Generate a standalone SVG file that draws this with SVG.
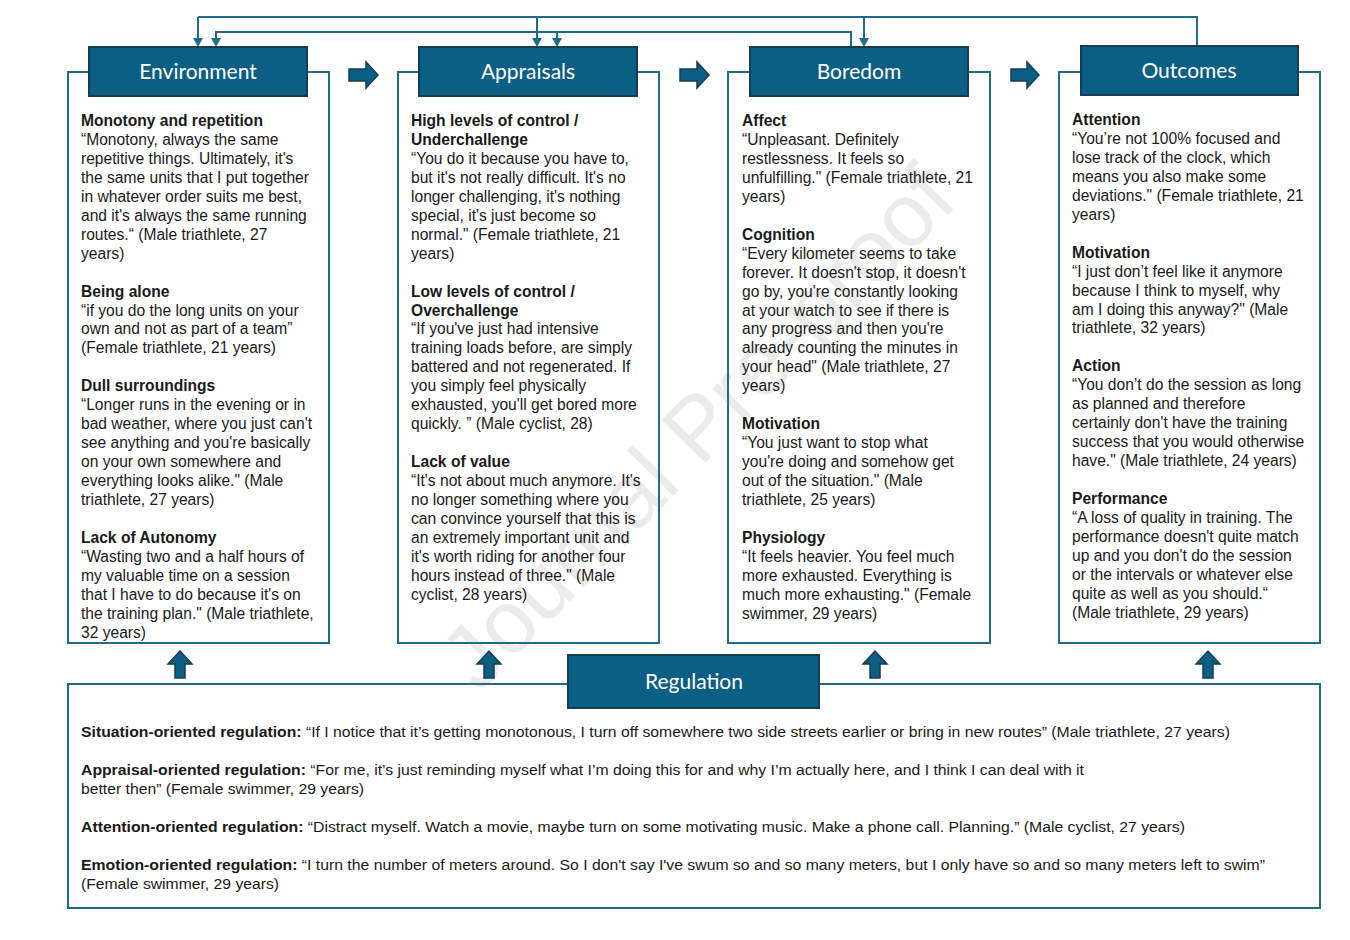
<svg xmlns="http://www.w3.org/2000/svg" width="1350" height="940" viewBox="0 0 1350 940">
<style>
.frame{fill:none;stroke:#1f6b8c;stroke-width:2}
.hdr{fill:#0b5e84;stroke:#173d52;stroke-width:2}
.htxt{font-family:Lato,"Open Sans",sans-serif;font-size:21px;fill:#ffffff;text-anchor:middle}
.t{font-family:"Liberation Sans",Arial,sans-serif;font-size:15.6px;fill:#1a1a1a}
.b{font-weight:bold}
.r{font-family:"Liberation Sans",Arial,sans-serif;font-size:15.5px;fill:#1a1a1a}
.con{fill:none;stroke:#1f6b8c;stroke-width:2}
.blk{fill:#0b5e84;stroke:#173d52;stroke-width:1.5}
.wm{font-family:"Liberation Sans",Arial,sans-serif;font-size:89px;fill:#ebebeb;text-anchor:middle}
</style>
<rect width="1350" height="940" fill="#ffffff"/>
<text class="wm" x="697" y="458" transform="rotate(-45.6 697 427)">Journal Pre-proof</text>

<g id="connectors">
<path class="con" d="M198,17 H1197 V46"/>
<path class="con" d="M198,17 V38"/>
<path class="con" d="M537,17 V38"/>
<path class="con" d="M864,17 V38"/>
<path class="con" d="M851,47 V32 H216 V38"/>
<path class="con" d="M557,32 V38"/>
<path d="M193,38 L203,38 L198,47 Z" fill="#1f6b8c"/>
<path d="M532,38 L542,38 L537,47 Z" fill="#1f6b8c"/>
<path d="M859,38 L869,38 L864,47 Z" fill="#1f6b8c"/>
<path d="M211,38 L221,38 L216,47 Z" fill="#1f6b8c"/>
<path d="M552,38 L562,38 L557,47 Z" fill="#1f6b8c"/>
<polygon class="blk" points="349,69 366,69 366,62 378,75 366,88 366,81 349,81"/>
<polygon class="blk" points="680,69 697,69 697,62 709,75 697,88 697,81 680,81"/>
<polygon class="blk" points="1011,69 1027,69 1027,62 1039,75 1027,88 1027,81 1011,81"/>
<polygon class="blk" points="175,678 175,664 168,664 180,651 192,664 185,664 185,678"/>
<polygon class="blk" points="484,678 484,664 477,664 489,651 501,664 494,664 494,678"/>
<polygon class="blk" points="870,678 870,664 863,664 875,651 887,664 880,664 880,678"/>
<polygon class="blk" points="1203,678 1203,664 1196,664 1208,651 1220,664 1213,664 1213,678"/>
</g>

<g id="environment">
<rect class="frame" x="68" y="72" width="261" height="571"/>
<rect class="hdr" x="89" y="47" width="218" height="49"/>
<text class="htxt" x="198" y="79">Environment</text>
<text class="t" x="81" y="126">
<tspan x="81" class="b">Monotony and repetition</tspan>
<tspan x="81" dy="18.95">“Monotony, always the same</tspan>
<tspan x="81" dy="18.95">repetitive things. Ultimately, it's</tspan>
<tspan x="81" dy="18.95">the same units that I put together</tspan>
<tspan x="81" dy="18.95">in whatever order suits me best,</tspan>
<tspan x="81" dy="18.95">and it's always the same running</tspan>
<tspan x="81" dy="18.95">routes.“ (Male triathlete, 27</tspan>
<tspan x="81" dy="18.95">years)</tspan>
<tspan x="81" dy="37.9" class="b">Being alone</tspan>
<tspan x="81" dy="18.95">“if you do the long units on your</tspan>
<tspan x="81" dy="18.95">own and not as part of a team”</tspan>
<tspan x="81" dy="18.95">(Female triathlete, 21 years)</tspan>
<tspan x="81" dy="37.9" class="b">Dull surroundings</tspan>
<tspan x="81" dy="18.95">“Longer runs in the evening or in</tspan>
<tspan x="81" dy="18.95">bad weather, where you just can't</tspan>
<tspan x="81" dy="18.95">see anything and you're basically</tspan>
<tspan x="81" dy="18.95">on your own somewhere and</tspan>
<tspan x="81" dy="18.95">everything looks alike." (Male</tspan>
<tspan x="81" dy="18.95">triathlete, 27 years)</tspan>
<tspan x="81" dy="37.9" class="b">Lack of Autonomy</tspan>
<tspan x="81" dy="18.95">“Wasting two and a half hours of</tspan>
<tspan x="81" dy="18.95">my valuable time on a session</tspan>
<tspan x="81" dy="18.95">that I have to do because it's on</tspan>
<tspan x="81" dy="18.95">the training plan." (Male triathlete,</tspan>
<tspan x="81" dy="18.95">32 years)</tspan>
</text>
</g>

<g id="appraisals">
<rect class="frame" x="398" y="72" width="261" height="571"/>
<rect class="hdr" x="419" y="47" width="218" height="49"/>
<text class="htxt" x="528" y="79">Appraisals</text>
<text class="t" x="411" y="126">
<tspan x="411" class="b">High levels of control /</tspan>
<tspan x="411" dy="18.95" class="b">Underchallenge</tspan>
<tspan x="411" dy="18.95">“You do it because you have to,</tspan>
<tspan x="411" dy="18.95">but it's not really difficult. It's no</tspan>
<tspan x="411" dy="18.95">longer challenging, it's nothing</tspan>
<tspan x="411" dy="18.95">special, it's just become so</tspan>
<tspan x="411" dy="18.95">normal." (Female triathlete, 21</tspan>
<tspan x="411" dy="18.95">years)</tspan>
<tspan x="411" dy="37.9" class="b">Low levels of control /</tspan>
<tspan x="411" dy="18.95" class="b">Overchallenge</tspan>
<tspan x="411" dy="18.95">“If you've just had intensive</tspan>
<tspan x="411" dy="18.95">training loads before, are simply</tspan>
<tspan x="411" dy="18.95">battered and not regenerated. If</tspan>
<tspan x="411" dy="18.95">you simply feel physically</tspan>
<tspan x="411" dy="18.95">exhausted, you'll get bored more</tspan>
<tspan x="411" dy="18.95">quickly. ” (Male cyclist, 28)</tspan>
<tspan x="411" dy="37.9" class="b">Lack of value</tspan>
<tspan x="411" dy="18.95">“It's not about much anymore. It's</tspan>
<tspan x="411" dy="18.95">no longer something where you</tspan>
<tspan x="411" dy="18.95">can convince yourself that this is</tspan>
<tspan x="411" dy="18.95">an extremely important unit and</tspan>
<tspan x="411" dy="18.95">it's worth riding for another four</tspan>
<tspan x="411" dy="18.95">hours instead of three." (Male</tspan>
<tspan x="411" dy="18.95">cyclist, 28 years)</tspan>
</text>
</g>

<g id="boredom">
<rect class="frame" x="728" y="72" width="262" height="571"/>
<rect class="hdr" x="750" y="47" width="218" height="49"/>
<text class="htxt" x="859" y="79">Boredom</text>
<text class="t" x="742" y="126">
<tspan x="742" class="b">Affect</tspan>
<tspan x="742" dy="18.95">“Unpleasant. Definitely</tspan>
<tspan x="742" dy="18.95">restlessness. It feels so</tspan>
<tspan x="742" dy="18.95">unfulfilling." (Female triathlete, 21</tspan>
<tspan x="742" dy="18.95">years)</tspan>
<tspan x="742" dy="37.9" class="b">Cognition</tspan>
<tspan x="742" dy="18.95">“Every kilometer seems to take</tspan>
<tspan x="742" dy="18.95">forever. It doesn't stop, it doesn't</tspan>
<tspan x="742" dy="18.95">go by, you're constantly looking</tspan>
<tspan x="742" dy="18.95">at your watch to see if there is</tspan>
<tspan x="742" dy="18.95">any progress and then you're</tspan>
<tspan x="742" dy="18.95">already counting the minutes in</tspan>
<tspan x="742" dy="18.95">your head" (Male triathlete, 27</tspan>
<tspan x="742" dy="18.95">years)</tspan>
<tspan x="742" dy="37.9" class="b">Motivation</tspan>
<tspan x="742" dy="18.95">“You just want to stop what</tspan>
<tspan x="742" dy="18.95">you're doing and somehow get</tspan>
<tspan x="742" dy="18.95">out of the situation." (Male</tspan>
<tspan x="742" dy="18.95">triathlete, 25 years)</tspan>
<tspan x="742" dy="37.9" class="b">Physiology</tspan>
<tspan x="742" dy="18.95">“It feels heavier. You feel much</tspan>
<tspan x="742" dy="18.95">more exhausted. Everything is</tspan>
<tspan x="742" dy="18.95">much more exhausting." (Female</tspan>
<tspan x="742" dy="18.95">swimmer, 29 years)</tspan>
</text>
</g>

<g id="outcomes">
<rect class="frame" x="1059" y="72" width="261" height="571"/>
<rect class="hdr" x="1081" y="46" width="217" height="49"/>
<text class="htxt" x="1189" y="78">Outcomes</text>
<text class="t" x="1072" y="125">
<tspan x="1072" class="b">Attention</tspan>
<tspan x="1072" dy="18.95">“You’re not 100% focused and</tspan>
<tspan x="1072" dy="18.95">lose track of the clock, which</tspan>
<tspan x="1072" dy="18.95">means you also make some</tspan>
<tspan x="1072" dy="18.95">deviations." (Female triathlete, 21</tspan>
<tspan x="1072" dy="18.95">years)</tspan>
<tspan x="1072" dy="37.9" class="b">Motivation</tspan>
<tspan x="1072" dy="18.95">“I just don’t feel like it anymore</tspan>
<tspan x="1072" dy="18.95">because I think to myself, why</tspan>
<tspan x="1072" dy="18.95">am I doing this anyway?" (Male</tspan>
<tspan x="1072" dy="18.95">triathlete, 32 years)</tspan>
<tspan x="1072" dy="37.9" class="b">Action</tspan>
<tspan x="1072" dy="18.95">“You don’t do the session as long</tspan>
<tspan x="1072" dy="18.95">as planned and therefore</tspan>
<tspan x="1072" dy="18.95">certainly don't have the training</tspan>
<tspan x="1072" dy="18.95">success that you would otherwise</tspan>
<tspan x="1072" dy="18.95">have." (Male triathlete, 24 years)</tspan>
<tspan x="1072" dy="37.9" class="b">Performance</tspan>
<tspan x="1072" dy="18.95">“A loss of quality in training. The</tspan>
<tspan x="1072" dy="18.95">performance doesn't quite match</tspan>
<tspan x="1072" dy="18.95">up and you don't do the session</tspan>
<tspan x="1072" dy="18.95">or the intervals or whatever else</tspan>
<tspan x="1072" dy="18.95">quite as well as you should.“</tspan>
<tspan x="1072" dy="18.95">(Male triathlete, 29 years)</tspan>
</text>
</g>

<g id="regulation">
<rect class="frame" x="68" y="684" width="1252" height="224"/>
<rect class="hdr" x="568" y="655" width="251" height="53"/>
<text class="htxt" x="694" y="689">Regulation</text>
<text class="r" x="81" y="736.5" textLength="1149" lengthAdjust="spacingAndGlyphs"><tspan class="b">Situation-oriented regulation:</tspan> “If I notice that it’s getting monotonous, I turn off somewhere two side streets earlier or bring in new routes” (Male triathlete, 27 years)</text>
<text class="r" x="81" y="774.5" textLength="1003" lengthAdjust="spacingAndGlyphs"><tspan class="b">Appraisal-oriented regulation:</tspan> “For me, it’s just reminding myself what I’m doing this for and why I’m actually here, and I think I can deal with it</text>
<text class="r" x="81" y="793.5" textLength="283" lengthAdjust="spacingAndGlyphs">better then” (Female swimmer, 29 years)</text>
<text class="r" x="81" y="831.5" textLength="1104" lengthAdjust="spacingAndGlyphs"><tspan class="b">Attention-oriented regulation:</tspan> “Distract myself. Watch a movie, maybe turn on some motivating music. Make a phone call. Planning.” (Male cyclist, 27 years)</text>
<text class="r" x="81" y="869.5" textLength="1184" lengthAdjust="spacingAndGlyphs"><tspan class="b">Emotion-oriented regulation:</tspan> “I turn the number of meters around. So I don't say I've swum so and so many meters, but I only have so and so many meters left to swim”</text>
<text class="r" x="81" y="888.5" textLength="198" lengthAdjust="spacingAndGlyphs">(Female swimmer, 29 years)</text>
</g>
</svg>
